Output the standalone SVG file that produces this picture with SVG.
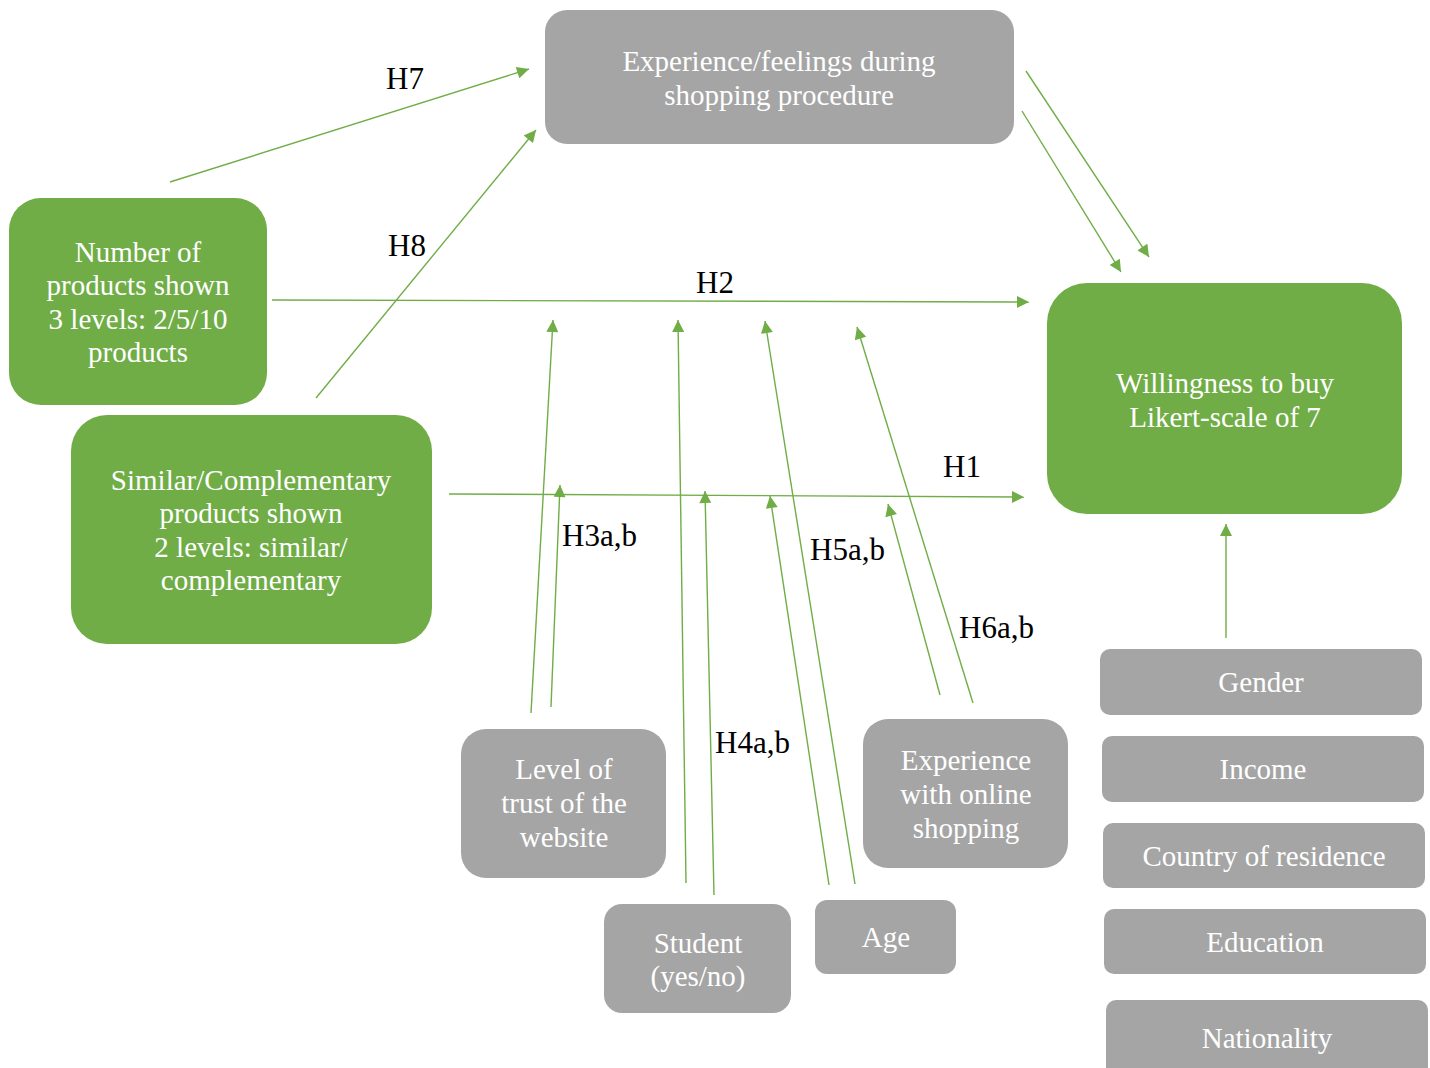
<svg xmlns="http://www.w3.org/2000/svg" width="1430" height="1068" viewBox="0 0 1430 1068">
<style>
.g{fill:#70ad47}
.y{fill:#a5a5a5}
.t{font-family:"Liberation Serif","Times New Roman",serif;font-size:29px;fill:#ffffff;text-anchor:middle}
.l{font-family:"Liberation Serif","Times New Roman",serif;font-size:31px;fill:#000000}
.c{stroke:#70ad47;stroke-width:1.4;fill:none;marker-end:url(#ah)}
</style>
<defs>
<marker id="ah" viewBox="0 0 12 12" refX="12" refY="6" markerWidth="13" markerHeight="12" markerUnits="userSpaceOnUse" orient="auto">
<path d="M0,0 L12,6 L0,12 z" fill="#70ad47"/>
</marker>
</defs>
<rect width="1430" height="1068" fill="#ffffff"/>

<g id="n-experience-feelings">
<rect class="y" x="545" y="10" width="469" height="134" rx="22"/>
<text class="t" x="779" y="71">Experience/feelings during</text>
<text class="t" x="779" y="105">shopping procedure</text>
</g>
<g id="n-number-products">
<rect class="g" x="9" y="198" width="258" height="207" rx="32"/>
<text class="t" x="138" y="262">Number of</text>
<text class="t" x="138" y="295">products shown</text>
<text class="t" x="138" y="329">3 levels: 2/5/10</text>
<text class="t" x="138" y="362">products</text>
</g>
<g id="n-similar">
<rect class="g" x="71" y="415" width="361" height="229" rx="36"/>
<text class="t" x="251" y="490">Similar/Complementary</text>
<text class="t" x="251" y="523">products shown</text>
<text class="t" x="251" y="557">2 levels: similar/</text>
<text class="t" x="251" y="590">complementary</text>
</g>
<g id="n-willingness">
<rect class="g" x="1047" y="283" width="355" height="231" rx="40"/>
<text class="t" x="1225" y="393">Willingness to buy</text>
<text class="t" x="1225" y="427">Likert-scale of 7</text>
</g>
<g id="n-trust">
<rect class="y" x="461" y="729" width="205" height="149" rx="25"/>
<text class="t" x="564" y="779">Level of</text>
<text class="t" x="564" y="813">trust of the</text>
<text class="t" x="564" y="847">website</text>
</g>
<g id="n-student">
<rect class="y" x="604" y="904" width="187" height="109" rx="18"/>
<text class="t" x="698" y="953">Student</text>
<text class="t" x="698" y="986">(yes/no)</text>
</g>
<g id="n-age">
<rect class="y" x="815" y="900" width="141" height="74" rx="12"/>
<text class="t" x="886" y="947">Age</text>
</g>
<g id="n-experience-online">
<rect class="y" x="863" y="719" width="205" height="149" rx="25"/>
<text class="t" x="966" y="770">Experience</text>
<text class="t" x="966" y="804">with online</text>
<text class="t" x="966" y="838">shopping</text>
</g>
<g id="n-gender">
<rect class="y" x="1100" y="649" width="322" height="66" rx="10"/>
<text class="t" x="1261" y="692">Gender</text>
</g>
<g id="n-income">
<rect class="y" x="1102" y="736" width="322" height="66" rx="10"/>
<text class="t" x="1263" y="779">Income</text>
</g>
<g id="n-country">
<rect class="y" x="1103" y="823" width="322" height="65" rx="10"/>
<text class="t" x="1264" y="866">Country of residence</text>
</g>
<g id="n-education">
<rect class="y" x="1104" y="909" width="322" height="65" rx="10"/>
<text class="t" x="1265" y="952">Education</text>
</g>
<g id="n-nationality">
<rect class="y" x="1106" y="1000" width="322" height="90" rx="10"/>
<text class="t" x="1267" y="1048">Nationality</text>
</g>

<g id="connectors">
<line class="c" x1="170" y1="182" x2="529" y2="69"/>
<line class="c" x1="316" y1="398" x2="536" y2="130"/>
<line class="c" x1="272" y1="300" x2="1029" y2="302"/>
<line class="c" x1="449" y1="494" x2="1024" y2="497"/>
<line class="c" x1="1026" y1="71" x2="1149" y2="257"/>
<line class="c" x1="1022" y1="111" x2="1121" y2="272"/>
<line class="c" x1="531" y1="713" x2="553" y2="320"/>
<line class="c" x1="551" y1="707" x2="560" y2="485"/>
<line class="c" x1="686" y1="883" x2="678" y2="320"/>
<line class="c" x1="714" y1="895" x2="705" y2="491"/>
<line class="c" x1="855" y1="884" x2="765" y2="321"/>
<line class="c" x1="829" y1="885" x2="770" y2="496"/>
<line class="c" x1="973" y1="703" x2="857" y2="327"/>
<line class="c" x1="940" y1="695" x2="888" y2="504"/>
<line class="c" x1="1226" y1="638" x2="1226" y2="524"/>
</g>

<g id="labels">
<text class="l" x="386" y="89">H7</text>
<text class="l" x="388" y="256">H8</text>
<text class="l" x="696" y="293">H2</text>
<text class="l" x="943" y="477">H1</text>
<text class="l" x="562" y="546">H3a,b</text>
<text class="l" x="810" y="560">H5a,b</text>
<text class="l" x="959" y="638">H6a,b</text>
<text class="l" x="715" y="753">H4a,b</text>
</g>
</svg>
